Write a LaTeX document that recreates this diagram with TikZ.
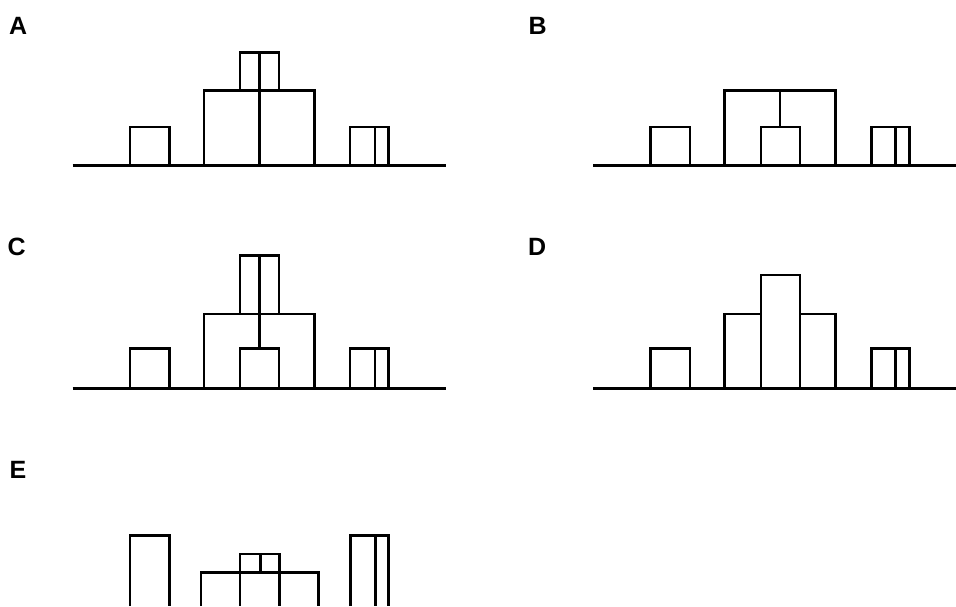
\documentclass[tikz,border=0pt]{standalone}
\usepackage{fontspec}
\setmainfont{Liberation Sans}
\begin{document}
\begin{tikzpicture}[x=1pt,y=-1pt,
  bar/.style={draw=black, line width=2.8pt, line join=miter},
  lbl/.style={anchor=base west, inner sep=0pt, font=\fontsize{25}{25}\selectfont\bfseries}]
\useasboundingbox[fill=white] (0,0) rectangle (956,606);
% labels
\node[lbl] (la) at (9,34) {A};
\node[lbl] (lb) at (528.5,34) {B};
\node[lbl] (lc) at (7.5,255) {C};
\node[lbl] (ld) at (528,255) {D};
\node[lbl] (le) at (9.5,478) {E};
% ---- Panel A ----
\draw[bar] (72.7,165.7) -- (446,165.7);
\draw[bar] (130,165.7) rectangle (169.3,127);
\draw[bar] (204,165.7) rectangle (314.3,90.7);
\draw[bar] (259.5,90.7) -- (259.5,165.7);
\draw[bar] (240,90.7) rectangle (279,52.3);
\draw[bar] (259.5,52.3) -- (259.5,90.7);
\draw[bar] (350,165.7) rectangle (388.7,127);
\draw[bar] (375,127) -- (375,165.7);
% ---- Panel B ----
\draw[bar] (593.3,165.7) -- (956,165.7);
\draw[bar] (650.7,165.7) rectangle (690,127);
\draw[bar] (724.7,165.7) rectangle (835.7,90.7);
\draw[bar] (780,90.7) -- (780,127);
\draw[bar] (761,165.7) rectangle (800,127);
\draw[bar] (871.3,165.7) rectangle (909.7,127);
\draw[bar] (895.7,127) -- (895.7,165.7);
% ---- Panel C ----
\draw[bar] (72.7,388.7) -- (446,388.7);
\draw[bar] (130,388.7) rectangle (169.3,348.3);
\draw[bar] (204,388.7) rectangle (314.3,314);
\draw[bar] (259.5,314) -- (259.5,348.3);
\draw[bar] (240,388.7) rectangle (279,348.3);
\draw[bar] (240,314) rectangle (279,255.7);
\draw[bar] (259.5,255.7) -- (259.5,314);
\draw[bar] (350,388.7) rectangle (388.7,348.3);
\draw[bar] (375,348.3) -- (375,388.7);
% ---- Panel D ----
\draw[bar] (593.3,388.7) -- (956,388.7);
\draw[bar] (650.7,388.7) rectangle (690,348.3);
\draw[bar] (724.7,388.7) rectangle (761,314);
\draw[bar] (761,388.7) rectangle (800,275);
\draw[bar] (800,388.7) rectangle (835.7,314);
\draw[bar] (871.3,388.7) rectangle (909.7,348.3);
\draw[bar] (895.7,348.3) -- (895.7,388.7);
% ---- Panel E ----
\draw[bar] (130,606) -- (130,535.5) -- (169.3,535.5) -- (169.3,606);
\draw[bar] (201,606) -- (201,572.5) -- (318.5,572.5) -- (318.5,606);
\draw[bar] (240,572.5) -- (240,606);
\draw[bar] (279.3,572.5) -- (279.3,606);
\draw[bar] (240,572.5) rectangle (279.3,554);
\draw[bar] (260.5,554) -- (260.5,572.5);
\draw[bar] (350.5,606) -- (350.5,535.5) -- (388.7,535.5) -- (388.7,606);
\draw[bar] (375.5,535.5) -- (375.5,606);
\end{tikzpicture}
\end{document}
